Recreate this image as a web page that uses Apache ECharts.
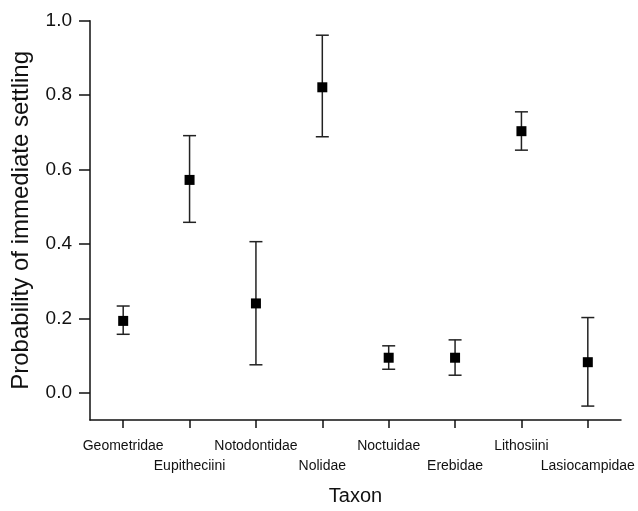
<!DOCTYPE html>
<html>
<head>
<meta charset="utf-8">
<script src="https://cdn.jsdelivr.net/npm/echarts@6/dist/echarts.min.js"></script>
<style>
  html, body { margin: 0; padding: 0; background: #fff; }
  #chart { width: 638px; height: 511px; }
</style>
</head>
<body>
<div id="chart"></div>
<script>
// taxa along the x axis
const taxa = ['Geometridae', 'Eupitheciini', 'Notodontidae', 'Nolidae',
  'Noctuidae', 'Erebidae', 'Lithosiini', 'Lasiocampidae'];
// estimated probability and interval ends
const prob = [0.193, 0.572, 0.240, 0.821, 0.094, 0.094, 0.703, 0.082];
const lower = [0.157, 0.458, 0.075, 0.688, 0.063, 0.047, 0.652, -0.036];
const upper = [0.233, 0.691, 0.406, 0.961, 0.126, 0.142, 0.755, 0.202];
const yTicks = [0, 0.2, 0.4, 0.6, 0.8, 1.0];

const font = 'Liberation Sans';
const ink = '#111';

const chart = echarts.init(document.getElementById('chart'));

const errData = taxa.map((t, i) => [i, lower[i], upper[i]]);

chart.setOption({
  animation: false,
  grid: { left: 90, right: 17, top: 20.7, bottom: 91, containLabel: false },
  xAxis: {
    type: 'category',
    data: taxa,
    name: 'Taxon',
    nameLocation: 'middle',
    nameGap: 66,
    nameTextStyle: { fontFamily: font, fontSize: 20, color: ink },
    axisLine: { onZero: false, lineStyle: { color: ink, width: 1.5 } },
    axisTick: { show: true, alignWithLabel: true, interval: 0, length: 8, lineStyle: { color: ink, width: 1.5 } },
    axisLabel: {
      interval: 0,
      margin: 16,
      fontFamily: font,
      fontSize: 14,
      lineHeight: 20,
      color: ink,
      formatter: (v, i) => (i % 2 ? '\n' + v : v)
    },
    splitLine: { show: false }
  },
  yAxis: {
    type: 'value',
    min: -0.0734,
    max: 1.0,
    name: 'Probability of immediate settling',
    nameLocation: 'middle',
    nameRotate: 90,
    nameGap: 57,
    nameTextStyle: { fontFamily: font, fontSize: 24, color: ink },
    axisLine: { show: true, onZero: false, lineStyle: { color: ink, width: 1.5 } },
    axisTick: { show: true, length: 11, customValues: yTicks, lineStyle: { color: ink, width: 1.5 } },
    axisLabel: {
      margin: 18,
      fontFamily: font,
      fontSize: 19,
      color: ink,
      customValues: yTicks,
      formatter: v => v.toFixed(1)
    },
    splitLine: { show: false }
  },
  series: [
    {
      type: 'custom',
      data: errData,
      renderItem: (params, api) => {
        const x = api.value(0);
        const lo = api.coord([x, api.value(1)]);
        const hi = api.coord([x, api.value(2)]);
        const half = 6.5;
        const style = { stroke: '#222', lineWidth: 1.5 };
        return {
          type: 'group',
          children: [
            { type: 'line', shape: { x1: lo[0], y1: lo[1], x2: hi[0], y2: hi[1] }, style },
            { type: 'line', shape: { x1: lo[0] - half, y1: lo[1], x2: lo[0] + half, y2: lo[1] }, style },
            { type: 'line', shape: { x1: hi[0] - half, y1: hi[1], x2: hi[0] + half, y2: hi[1] }, style }
          ]
        };
      },
      z: 2
    },
    {
      type: 'scatter',
      data: prob.map((p, i) => [i, p]),
      symbol: 'rect',
      symbolSize: 10,
      itemStyle: { color: '#000', opacity: 1 },
      z: 3
    }
  ]
});
</script>
</body>
</html>
